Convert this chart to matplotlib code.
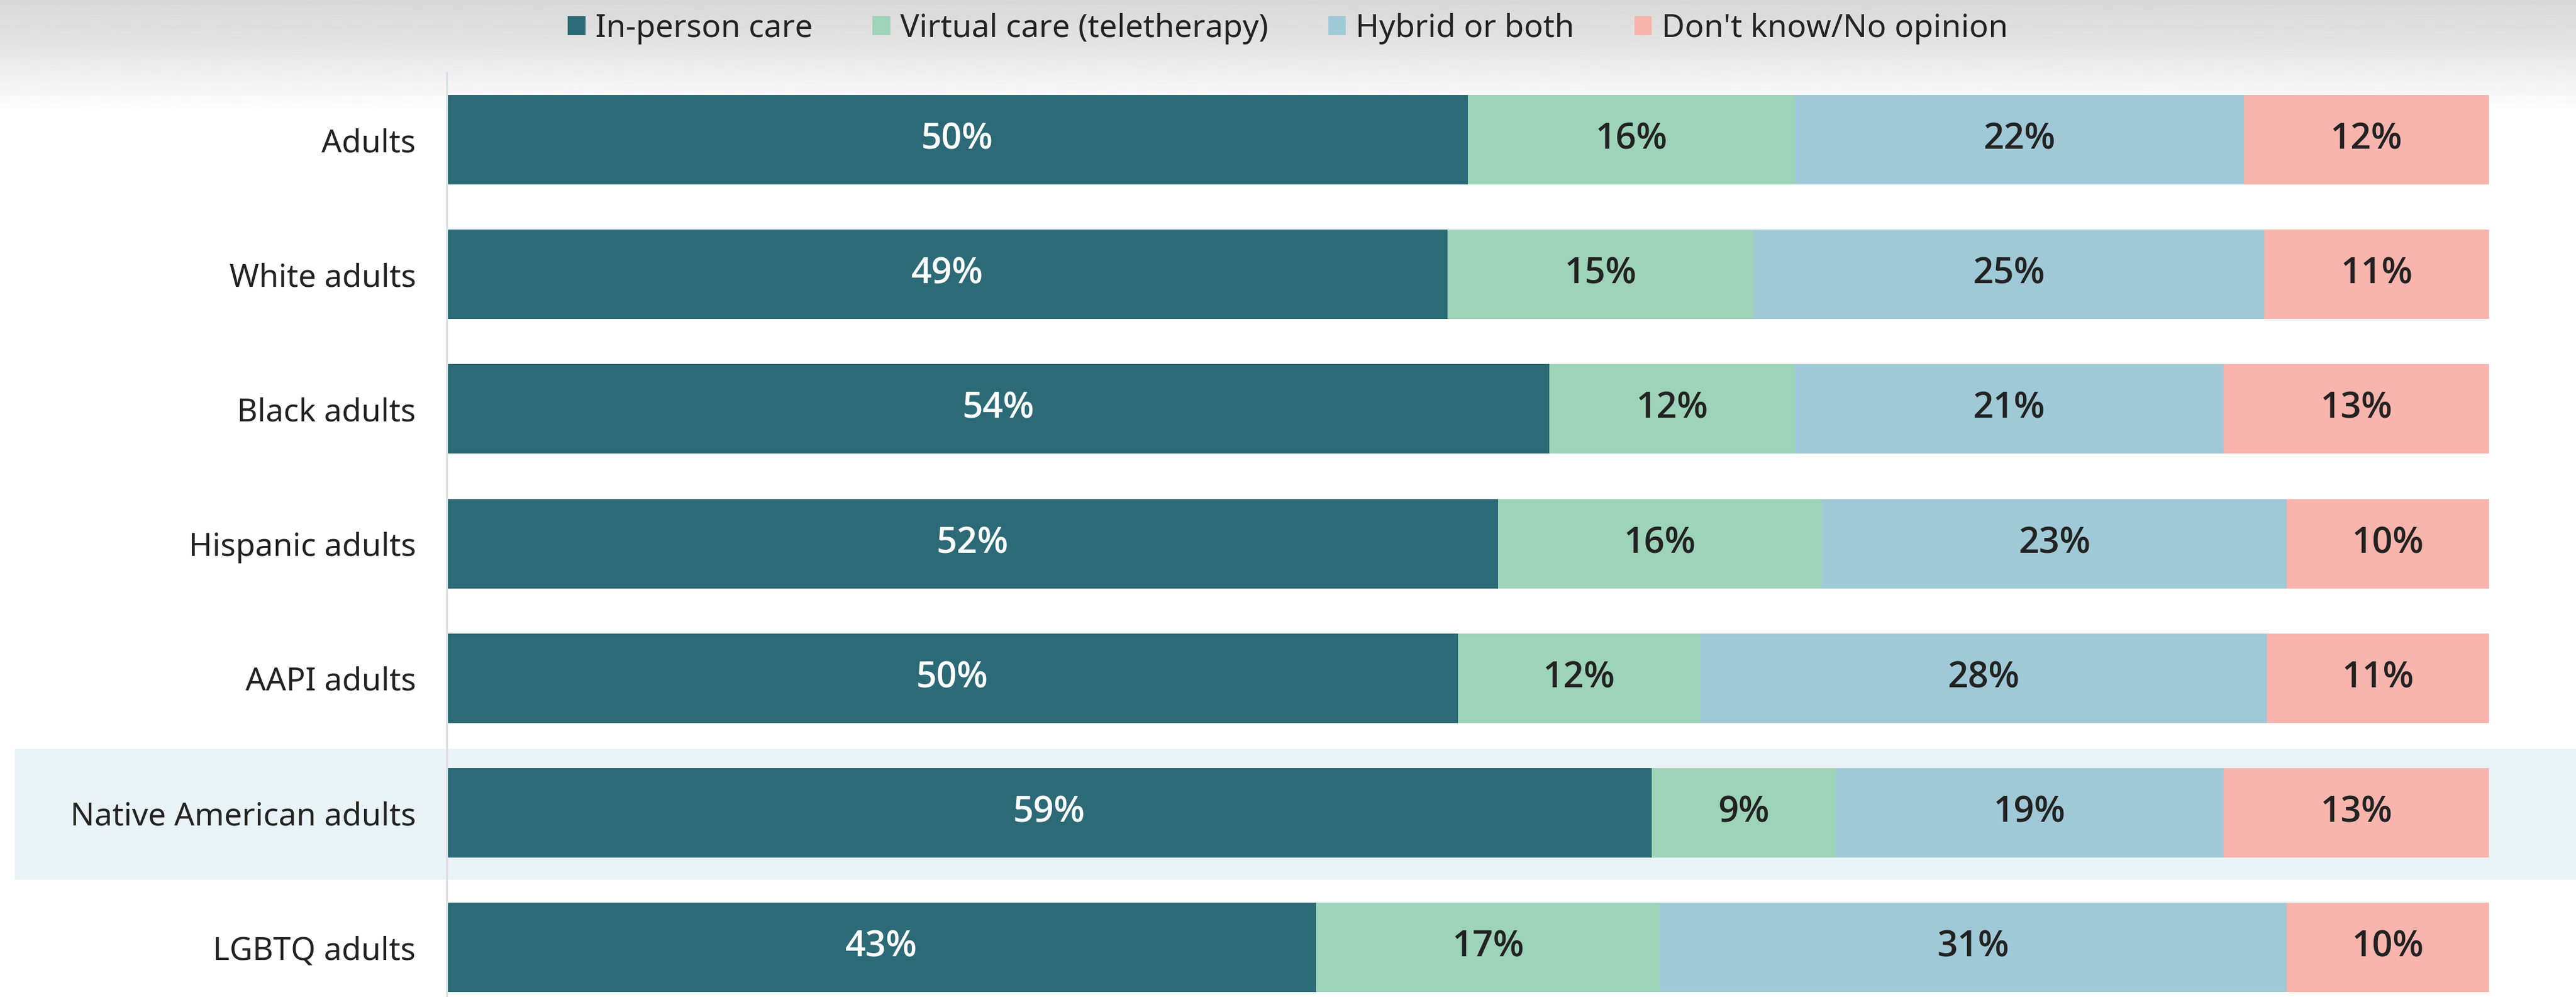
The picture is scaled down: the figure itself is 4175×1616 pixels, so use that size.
import matplotlib
matplotlib.use("Agg")
import matplotlib.pyplot as plt
import matplotlib.transforms as mtransforms
from matplotlib.patches import Patch, Rectangle
import numpy as np

plt.rcParams['font.family'] = ['Noto Sans', 'DejaVu Sans']

# survey answers per group, in percent
groups = ["Adults", "White adults", "Black adults", "Hispanic adults",
          "AAPI adults", "Native American adults", "LGBTQ adults"]
series = ["In-person care", "Virtual care (teletherapy)", "Hybrid or both",
          "Don't know/No opinion"]
in_person = [50, 49, 54, 52, 50, 59, 43]
virtual = [16, 15, 12, 16, 12, 9, 17]
hybrid = [22, 25, 21, 23, 28, 19, 31]
dont_know = [12, 11, 13, 10, 11, 13, 10]
highlight = "Native American adults"

colors = ["#2b6a76", "#9dd3b8", "#a0c9d7", "#f7b5ad"]
label_colors = ["white", "#222222", "#222222", "#222222"]
ink = "#222222"

W, H, DPI = 4175, 1616, 100
fig = plt.figure(figsize=(W / DPI, H / DPI), dpi=DPI)

# soft grey shade behind the legend strip
bg = fig.add_axes([0, 1 - 180 / H, 1, 180 / H], zorder=-5)
t = np.linspace(0, 1, 256)
shade = 0.85 + 0.15 * t ** 1.3
bg.imshow(shade[:, None], aspect="auto", cmap="gray", vmin=0, vmax=1,
          interpolation="bilinear")
bg.axis("off")

ax = fig.add_axes([724 / W, 0, (4034 - 724) / W, 1 - 117 / H])
ax.set_facecolor("none")

values = np.array([in_person, virtual, hybrid, dont_know], dtype=float)
shares = values / values.sum(axis=0) * 100
y = np.arange(len(groups))
bar_h = 0.665

left = np.zeros(len(groups))
for k, name in enumerate(series):
    ax.barh(y, shares[k], left=left, height=bar_h, color=colors[k],
            zorder=2, label=name)
    for i in range(len(groups)):
        ax.text(left[i] + shares[k][i] / 2, y[i], f"{int(values[k][i])}%",
                ha="center", va="center", fontsize=42,
                family=["Open Sans", "Lato", "DejaVu Sans"],
                fontweight="semibold", color=label_colors[k], zorder=3)
    left += shares[k]

# highlighted row band, running from the left margin to the figure edge
hi = groups.index(highlight)
trans = mtransforms.blended_transform_factory(fig.transFigure, ax.transData)
ax.add_patch(Rectangle((24 / W, hi - 0.474), 1 - 24 / W, 0.967,
                       transform=trans, color="#e9f3f6", zorder=0,
                       clip_on=False))

ax.set_xlim(0, 100)
ax.set_ylim(6.368, -0.502)
ax.set_yticks(y)
ax.set_yticklabels(groups, fontsize=37, color=ink)
ax.tick_params(axis="y", length=0, pad=36)
ax.set_xticks([])
for side in ["top", "right", "bottom"]:
    ax.spines[side].set_visible(False)
ax.spines["left"].set_color("#dcdfe2")
ax.spines["left"].set_linewidth(2.2)
ax.spines["left"].set_zorder(4)

handles = [Patch(facecolor=c, edgecolor="none") for c in colors]
leg = fig.legend(handles, series, loc="center", bbox_to_anchor=(0.5, 1 - 46 / H),
                 ncol=4, frameon=False, fontsize=37, handlelength=0.55,
                 handleheight=0.55, handletextpad=0.31, columnspacing=1.9)
for txt in leg.get_texts():
    txt.set_color(ink)

fig.savefig("out.png", dpi=DPI)
